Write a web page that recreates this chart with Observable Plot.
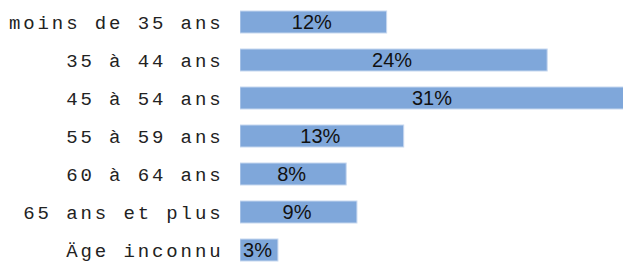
<!DOCTYPE html>
<html>
<head>
<meta charset="utf-8">
<script src="https://cdn.jsdelivr.net/npm/d3@7"></script>
<script src="https://cdn.jsdelivr.net/npm/@observablehq/plot@0.6"></script>
<style>
  html, body { margin: 0; padding: 0; background: #fff; }
</style>
</head>
<body>
<div id="chart"></div>
<script>
const categories = ["moins de 35 ans", "35 à 44 ans", "45 à 54 ans", "55 à 59 ans", "60 à 64 ans", "65 ans et plus", "Äge inconnu"];
const values = [11.6, 24.3, 30.6, 12.95, 8.4, 9.25, 3.0];
const valueLabels = ["12%", "24%", "31%", "13%", "8%", "9%", "3%"];

const data = categories.map((c, i) => ({category: c, value: values[i], label: valueLabels[i]}));

const chart = Plot.plot({
  width: 623,
  height: 264,
  marginLeft: 240,
  marginRight: 0,
  marginTop: 0,
  marginBottom: 0,
  clip: true,
  x: {domain: [0, 30.3], axis: null},
  y: {domain: categories, range: [0, 272.3], paddingInner: 0.416, paddingOuter: 0.255, label: null},
  style: {background: "#fff"},
  marks: [
    Plot.barX(data, {y: "category", x: "value", fill: "#7fa7da", stroke: "#c6d7ef", strokeWidth: 1, clip: true}),
    Plot.text(data, {y: "category", x: d => d.value / 2, text: "label", dx: -2, fill: "#111", fontSize: 20, fontFamily: "Liberation Sans, Arial, sans-serif", clip: false}),
    Plot.axisY({tickSize: 0, tickPadding: 17, fontSize: 19, fontFamily: "Liberation Mono, Courier New, monospace", label: null, color: "#222"})
  ]
});
chart.querySelectorAll('[aria-label="y-axis tick label"] text').forEach(t => t.setAttribute("letter-spacing", "2.9"));
document.getElementById("chart").appendChild(chart);
</script>
</body>
</html>
